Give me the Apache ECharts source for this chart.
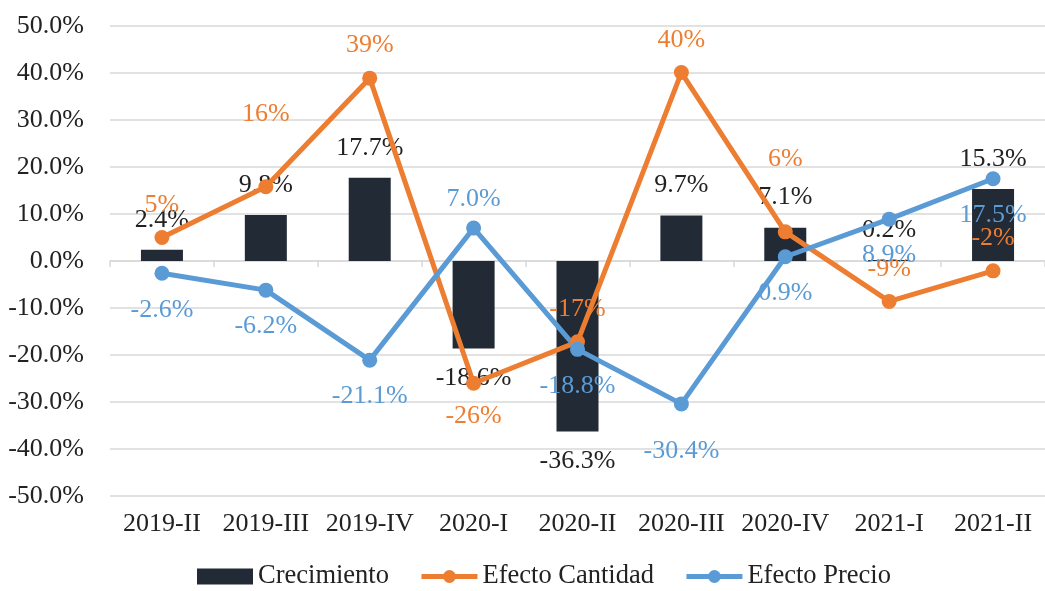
<!DOCTYPE html>
<html>
<head>
<meta charset="utf-8">
<script src="https://cdn.jsdelivr.net/npm/echarts@6/dist/echarts.min.js"></script>
<style>
  html, body { margin: 0; padding: 0; background: #fff; }
  #chart { width: 1045px; height: 591px; }
</style>
</head>
<body>
<div id="chart"></div>
<script>
const categories = ['2019-II', '2019-III', '2019-IV', '2020-I', '2020-II', '2020-III', '2020-IV', '2021-I', '2021-II']
const crecimiento = [2.4, 9.8, 17.7, -18.6, -36.3, 9.7, 7.1, 0.2, 15.3]
const efectoCantidad = [5.0, 15.8, 38.9, -26.0, -17.2, 40.1, 6.2, -8.6, -2.1]
const efectoPrecio = [-2.6, -6.2, -21.1, 7.0, -18.8, -30.4, 0.9, 8.9, 17.5]

const font = 'Liberation Serif'
const fs = 26

// etiquetas que en el original no caen en su sitio por defecto
function cantidadLabel (i) {
  if (i === 3) return { position: 'bottom', distance: 12 }
  if (i === 1 || i === 6) return { position: 'top', distance: 52 }
  return { position: 'top', distance: 12 }
}
function precioLabel (i) {
  if (i === 3) return { position: 'top', distance: 8 }
  if (i === 5) return { position: 'bottom', distance: 27 }
  return { position: 'bottom', distance: 16 }
}

const chart = echarts.init(document.getElementById('chart'))
const option = {
  animation: false,
  textStyle: { fontFamily: font },
  title: {
    text: '(en porcentaje)',
    left: 'center',
    top: -30,
    textStyle: { fontFamily: font, fontSize: 25, fontWeight: 'bold', color: '#000' }
  },
  legend: {
    bottom: -4,
    left: 192,
    itemWidth: 56,
    itemHeight: 16,
    itemGap: 30,
    textStyle: { fontFamily: font, fontSize: 26.5, color: '#222' },
    lineStyle: { width: 5 },
    data: [
      { name: 'Crecimiento', icon: 'rect' },
      { name: 'Efecto Cantidad' },
      { name: 'Efecto Precio' }
    ]
  },
  grid: { left: 110, right: -25, top: 26, bottom: 95 },
  xAxis: [
    {
      type: 'category',
      data: categories,
      axisLine: { onZero: true, lineStyle: { color: '#d9d9d9', width: 1.5 } },
      axisTick: { show: true, length: 6, lineStyle: { color: '#d9d9d9', width: 1.5 } },
      axisLabel: { show: false }
    },
    {
      type: 'category',
      data: categories,
      position: 'bottom',
      axisLine: { show: false, onZero: false },
      axisTick: { show: false },
      axisLabel: { interval: 0, margin: 15, fontFamily: font, fontSize: fs, color: '#222' }
    }
  ],
  yAxis: {
    type: 'value',
    min: -50,
    max: 50,
    interval: 10,
    axisLine: { show: false },
    axisTick: { show: false },
    axisLabel: {
      margin: 26,
      fontFamily: font,
      fontSize: fs,
      color: '#222',
      formatter: v => v.toFixed(1) + '%'
    },
    splitLine: { lineStyle: { color: '#d9d9d9', width: 1.5 } }
  },
  series: [
    {
      name: 'Crecimiento',
      type: 'bar',
      barWidth: 42,
      itemStyle: { color: '#222a35' },
      data: crecimiento.map(v => ({
        value: v,
        label: { position: v < 0 ? 'bottom' : 'top' }
      })),
      label: {
        show: true,
        distance: 17,
        fontFamily: font,
        fontSize: fs,
        color: '#222',
        formatter: p => p.value.toFixed(1) + '%'
      }
    },
    {
      name: 'Efecto Cantidad',
      type: 'line',
      symbol: 'circle',
      symbolSize: 15,
      lineStyle: { color: '#ed7d31', width: 5 },
      itemStyle: { color: '#ed7d31' },
      data: efectoCantidad.map((v, i) => ({ value: v, label: cantidadLabel(i) })),
      label: {
        show: true,
        fontFamily: font,
        fontSize: fs,
        color: '#ed7d31',
        formatter: p => Math.round(p.value) + '%'
      }
    },
    {
      name: 'Efecto Precio',
      type: 'line',
      symbol: 'circle',
      symbolSize: 15,
      lineStyle: { color: '#5b9bd5', width: 5 },
      itemStyle: { color: '#5b9bd5' },
      data: efectoPrecio.map((v, i) => ({ value: v, label: precioLabel(i) })),
      label: {
        show: true,
        fontFamily: font,
        fontSize: fs,
        color: '#5b9bd5',
        formatter: p => p.value.toFixed(1) + '%'
      }
    }
  ]
}
chart.setOption(option)
</script>
</body>
</html>
